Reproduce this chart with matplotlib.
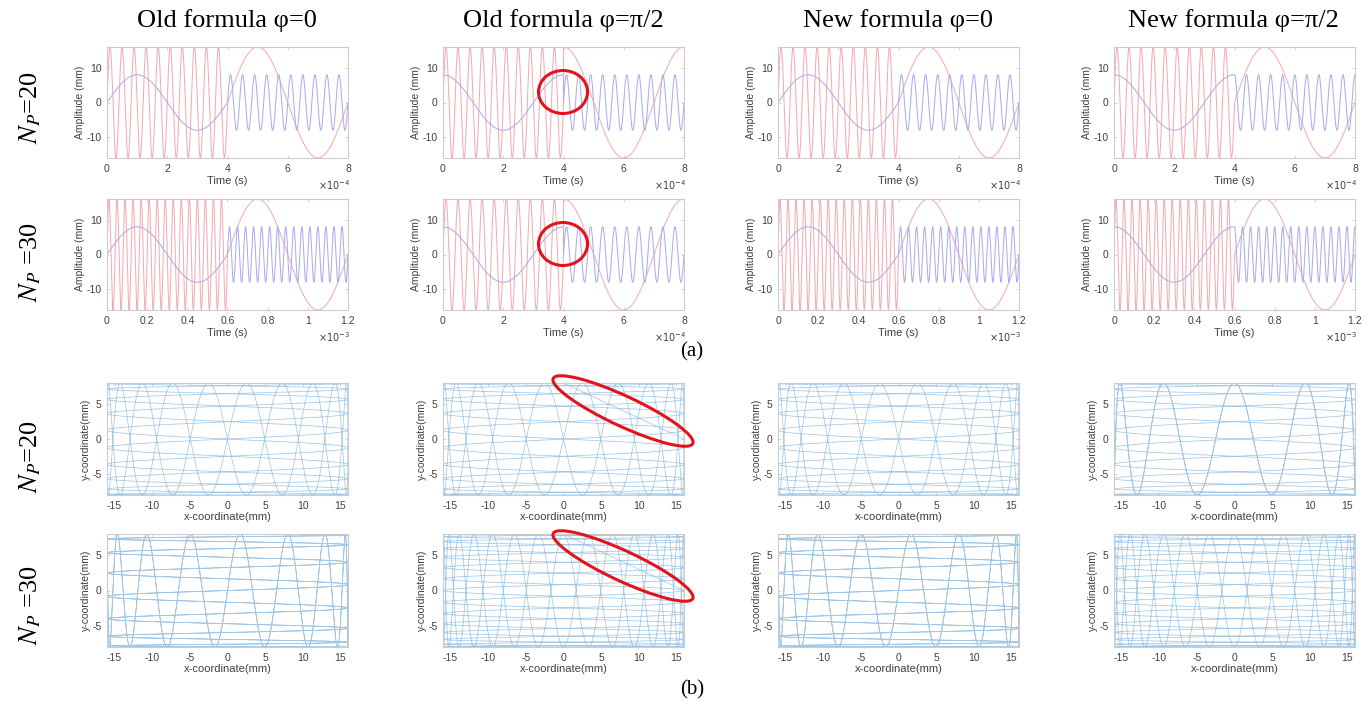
import numpy as np
import matplotlib
matplotlib.use("Agg")
import matplotlib.pyplot as plt
from matplotlib.patches import Ellipse

# ---------------- data ----------------
col_titles = ["Old formula \u03c6=0", "Old formula \u03c6=\u03c0/2",
              "New formula \u03c6=0", "New formula \u03c6=\u03c0/2"]
row_labels = [r"$N_P$=20", r"$N_P$ =30", r"$N_P$=20", r"$N_P$ =30"]
np_values = [20, 30]
fast_cycles = [10, 15]            # fast-axis cycles per half scan
half_durations = [4e-4, 6e-4]     # seconds per half scan
amp_x = 16.0                      # mm (red / x)
amp_y = 8.0                       # mm (blue / y)
phase_y_first = [0.0, np.pi / 2, 0.0, np.pi / 2]   # slow y phase, first half
phase_x_second = [0.0, np.pi / 2, 0.0, 0.0]        # slow x phase, second half
phase_y_second = [0.0, 0.0, 0.0, np.pi / 2]        # fast y phase, second half
# which N_P data set each time-domain panel shows (row, column)
time_panel_source = [[0, 0, 0, 0],
                     [1, 0, 1, 1]]
time_ticks = [[0, 2, 4, 6, 8], [0, 0.2, 0.4, 0.6, 0.8, 1, 1.2]]
time_scale = [1e-4, 1e-3]
time_exponent = ["-4", "-3"]
amp_ticks = [-10, 0, 10]
xy_xticks = [-15, -10, -5, 0, 5, 10, 15]
xy_yticks = [-5, 0, 5]


def scan(k, c, n=3000):
    Th = half_durations[k]
    N = fast_cycles[k]
    s = np.linspace(0, 1, n)
    t = np.concatenate([s * Th, Th + s * Th])
    x = np.concatenate([amp_x * np.sin(2 * np.pi * N * s),
                        amp_x * np.sin(2 * np.pi * s + phase_x_second[c])])
    y = np.concatenate([amp_y * np.sin(2 * np.pi * s + phase_y_first[c]),
                        amp_y * np.sin(2 * np.pi * N * s + phase_y_second[c])])
    return t, x, y


# ---------------- layout ----------------
W, H = 1370, 708
plt.rcParams["font.family"] = ["Liberation Sans", "DejaVu Sans"]
plt.rcParams["axes.unicode_minus"] = False
fig = plt.figure(figsize=(W / 100, H / 100), dpi=100)

col_lr = [(107, 348), (443, 684), (778, 1019), (1114, 1355)]
row_tb = [(47, 158), (199, 310), (383, 495), (534, 647)]

RED = "#f4acb3"
BLUE = "#acacf0"
XY = "#a2c8e6"
FRAME = "#cccccc"
TXT = "#404040"


def add_ax(l, t, r, b):
    return fig.add_axes([l / W, 1 - b / H, (r - l) / W, (b - t) / H])


def style(ax):
    for sp in ax.spines.values():
        sp.set_color(FRAME)
        sp.set_linewidth(0.8)
    ax.tick_params(direction="in", length=2.5, width=0.6, color=FRAME,
                   labelsize=7.5, labelcolor=TXT, top=True, right=True, pad=4)


for r in range(2):
    for c in range(4):
        k = time_panel_source[r][c]
        t, x, y = scan(k, c)
        l, rr = col_lr[c]
        tt, bb = row_tb[r]
        ax = add_ax(l, tt, rr, bb)
        ax.plot(t, x, color=RED, lw=0.75)
        ax.plot(t, y, color=BLUE, lw=0.75)
        ax.set_xlim(0, 2 * half_durations[k])
        ax.set_ylim(-amp_x, amp_x)
        ax.set_xticks([v * time_scale[k] for v in time_ticks[k]])
        ax.set_xticklabels([f"{v:g}" for v in time_ticks[k]])
        ax.set_yticks(amp_ticks)
        style(ax)
        ax.set_xlabel("Time (s)", fontsize=8, color=TXT, labelpad=2)
        ax.set_ylabel("Amplitude (mm)", fontsize=7.5, color=TXT, labelpad=1)
        ax.text(1.01, -0.245, r"$\times10^{%s}$" % time_exponent[k],
                transform=ax.transAxes, ha="right", va="center",
                fontsize=7, color=TXT, math_fontfamily="dejavusans")

for r in range(2):
    for c in range(4):
        t, x, y = scan(r, c, n=6000)
        l, rr = col_lr[c]
        tt, bb = row_tb[r + 2]
        ax = add_ax(l, tt, rr, bb)
        ax.plot(x, y, color=XY, lw=0.55)
        ax.set_xlim(-amp_x, amp_x)
        ax.set_ylim(-amp_y, amp_y)
        ax.set_xticks(xy_xticks)
        ax.set_yticks(xy_yticks)
        style(ax)
        ax.set_xlabel("x-coordinate(mm)", fontsize=8, color=TXT, labelpad=1)
        ax.set_ylabel("y-coordinate(mm)", fontsize=7.5, color=TXT, labelpad=1)

# column titles
col_centers = [227, 563, 898, 1233]
for c, title in enumerate(col_titles):
    fig.text(col_centers[c] / W, 1 - 21 / H, title, ha="center", va="center",
             fontsize=19, family="Liberation Serif")

# row labels
row_centers = [108, 262, 457, 605]
for r, lab in enumerate(row_labels):
    fig.text(30 / W, 1 - row_centers[r] / H, lab, rotation=90, ha="center",
             va="center", fontsize=19, family="Liberation Serif",
             math_fontfamily="stix")

fig.text(692 / W, 1 - 352 / H, "(a)", ha="center", va="center", fontsize=15,
         family="Liberation Serif")
fig.text(692 / W, 1 - 690 / H, "(b)", ha="center", va="center", fontsize=15,
         family="Liberation Serif")


# red highlight marks (pixel positions -> inches)
def px(xp, yp):
    return (xp / 100.0, (H - yp) / 100.0)


for cy in (92, 244):
    fig.add_artist(Ellipse(px(563, cy), 49 / 100, 43 / 100, fill=False,
                           edgecolor="#e3131b", lw=2.2,
                           transform=fig.dpi_scale_trans))
for cy in (411, 566):
    fig.add_artist(Ellipse(px(623, cy), 154 / 100, 30 / 100, angle=-25,
                           fill=False, edgecolor="#e3131b", lw=2.2,
                           transform=fig.dpi_scale_trans))

fig.savefig("out.png", dpi=100)
